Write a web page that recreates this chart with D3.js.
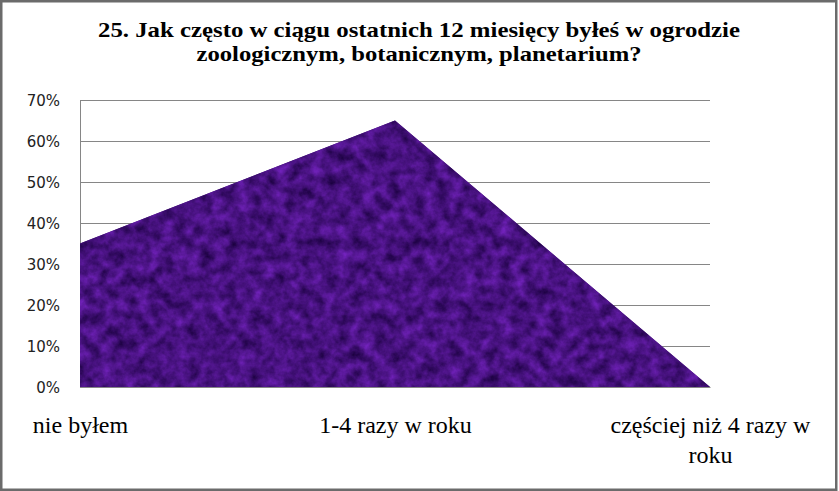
<!DOCTYPE html>
<html>
<head>
<meta charset="utf-8">
<script src="https://cdn.jsdelivr.net/npm/d3@7/dist/d3.min.js"></script>
<style>
  html, body { margin: 0; padding: 0; background: #fff; }
  svg { display: block; }
</style>
</head>
<body>
<svg id="chart" width="839" height="491"></svg>
<script>
const titleLines = ["25. Jak często w ciągu ostatnich 12 miesięcy byłeś w ogrodzie", "zoologicznym, botanicznym, planetarium?"];
const categories = ["nie byłem", "1-4 razy w roku", "częściej niż 4 razy w roku"];
const values = [0.35, 0.65, 0.0];
const yTicks = [0, 0.1, 0.2, 0.3, 0.4, 0.5, 0.6, 0.7];

const W = 839, H = 491;
const svg = d3.select("#chart");
const plot = { left: 80, right: 710, top: 100, bottom: 387 };

// texture filter
const defs = svg.append("defs");
const f = defs.append("filter").attr("id", "tex")
  .attr("x", 0).attr("y", 0).attr("width", 1).attr("height", 1)
  .attr("color-interpolation-filters", "sRGB");
f.append("feTurbulence").attr("type", "fractalNoise").attr("baseFrequency", 0.08)
  .attr("numOctaves", 4).attr("seed", 7).attr("result", "n");
f.append("feColorMatrix").attr("in", "n").attr("type", "matrix")
  .attr("values", "0.42 0 0 0 0.07  0.16 0 0 0 -0.01  0.6 0 0 0 0.2  0 0 0 0 1")
  .attr("result", "c");
f.append("feComposite").attr("in", "c").attr("in2", "SourceGraphic").attr("operator", "in");

// frame
svg.append("rect").attr("x", 1.25).attr("y", 1.25).attr("width", W - 4).attr("height", H - 2.5)
  .attr("fill", "#fff").attr("stroke", "#6b6b6b").attr("stroke-width", 2.5);

const x = d3.scalePoint().domain(categories).range([plot.left, plot.right]).padding(0);
const y = d3.scaleLinear().domain([0, 0.7]).range([plot.bottom, plot.top]);

// y axis with gridlines
const yAxis = svg.append("g").attr("transform", `translate(${plot.left},0)`)
  .call(d3.axisLeft(y).tickValues(yTicks).tickFormat(d3.format(".0%"))
    .tickSize(-(plot.right - plot.left)).tickPadding(20));
yAxis.selectAll(".tick line").attr("stroke", "#868686").attr("stroke-width", 1);
yAxis.select(".domain").attr("stroke", "#868686").attr("d", `M0.5,${plot.top}V${plot.bottom}`);
yAxis.selectAll(".tick text").attr("font-family", "'DejaVu Sans', sans-serif")
  .attr("font-size", 15).attr("fill", "#222").attr("dy", "0.36em");

// area
const area = d3.area().x((d, i) => x(categories[i])).y0(y(0)).y1(d => y(d)).curve(d3.curveLinear);
svg.append("path").datum(values).attr("d", area).attr("fill", "#481380");
svg.append("path").datum(values).attr("d", area).attr("fill", "#481380").attr("filter", "url(#tex)");

// x axis
const xAxis = svg.append("g").attr("transform", `translate(0,${plot.bottom})`)
  .call(d3.axisBottom(x).tickSize(0).tickSizeOuter(0).tickPadding(29));
xAxis.select(".domain").attr("stroke", "#868686");
xAxis.selectAll(".tick text").attr("font-family", "'Liberation Serif', 'Times New Roman', serif")
  .attr("font-size", 24).attr("fill", "#000")
  .each(function(d) {
    const t = d3.select(this);
    const cx = x(d);
    const maxW = Math.min(315, 2 * (W - 20 - cx), 2 * (cx - 4));
    const words = d.split(" ");
    const yy = +t.attr("y"), dy = t.attr("dy");
    t.text(null);
    let line = [], lineNo = 0;
    let ts = t.append("tspan").attr("x", 0).attr("y", yy).attr("dy", dy);
    for (const w of words) {
      line.push(w);
      ts.text(line.join(" "));
      if (ts.node().getComputedTextLength() > maxW && line.length > 1) {
        line.pop();
        ts.text(line.join(" "));
        line = [w];
        lineNo++;
        ts = t.append("tspan").attr("x", 0).attr("y", yy + lineNo * 30).attr("dy", dy).text(w);
      }
    }
  });

// title
const titleWidths = [642, 445];
svg.append("g").selectAll("text").data(titleLines).join("text")
  .attr("x", 419).attr("y", (d, i) => 37 + i * 23.5)
  .attr("text-anchor", "middle")
  .attr("font-family", "'Liberation Serif', 'Times New Roman', serif")
  .attr("font-weight", "bold").attr("font-size", 21).attr("fill", "#000")
  .attr("textLength", (d, i) => titleWidths[i]).attr("lengthAdjust", "spacingAndGlyphs")
  .text(d => d);
</script>
</body>
</html>
